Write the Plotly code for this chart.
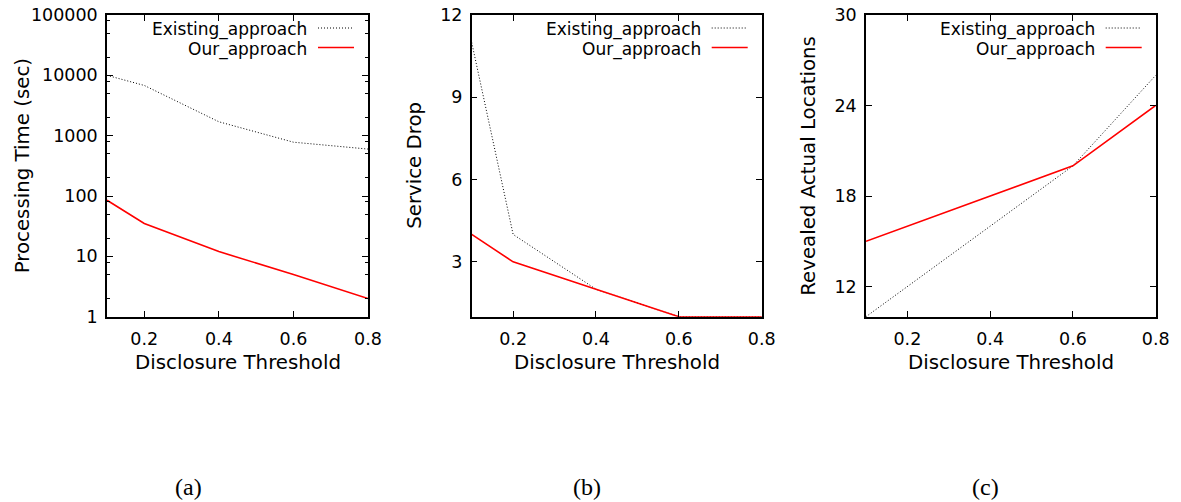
import plotly.graph_objects as go

W, H = 1181, 502

# ---- data ----
thresholds = [0.1, 0.2, 0.4, 0.6, 0.8]
series_names = ["Existing_approach", "Our_approach"]

time_existing = [10000, 6800, 1700, 780, 600]
time_ours = [85, 35, 12, 5, 2]

drop_existing = [11, 4, 2, 1, 1]
drop_ours = [4, 3, 2, 1, 1]

reveal_existing = [10, 12, 16, 20, 26]
reveal_ours = [15, 16, 18, 20, 24]

x_ticks = [0.2, 0.4, 0.6, 0.8]
a_yticks = [1, 10, 100, 1000, 10000, 100000]
a_minor = [m * 10 ** d for d in range(5) for m in (2, 5, 8)]
b_yticks = [3, 6, 9, 12]
c_yticks = [12, 18, 24, 30]

y_titles = ["Processing Time (sec)", "Service Drop", "Revealed Actual Locations"]
x_title = "Disclosure Threshold"
captions = ["(a)", "(b)", "(c)"]

# ---- layout geometry (pixels) ----
panels_px = [(107, 368), (471.7, 761.7), (866, 1155.7)]
top_px, bot_px = 15, 316.7
ytitle_x_px = [22.5, 415, 809]
caption_x_px = [188, 587, 985]


def px(x):
    return x / W


def py(y):
    return 1 - y / H


FONT = "DejaVu Sans"
styles = [dict(color="#000000", width=1, dash="1px,2px"), dict(color="#ff0000", width=1.6)]

fig = go.Figure()
datasets = [
    (time_existing, time_ours),
    (drop_existing, drop_ours),
    (reveal_existing, reveal_ours),
]
for i, (ex, ours) in enumerate(datasets):
    xa = "x" if i == 0 else f"x{i+1}"
    ya = "y" if i == 0 else f"y{i+1}"
    for name, vals, st in zip(series_names, (ex, ours), styles):
        fig.add_trace(go.Scatter(x=thresholds, y=vals, mode="lines", name=name,
                                 line=st, xaxis=xa, yaxis=ya, showlegend=False,
                                 cliponaxis=True))

axis_common = dict(showgrid=False, zeroline=False, showline=True, linecolor="black",
                   linewidth=1.5, mirror="ticks", ticks="inside", ticklen=6,
                   tickwidth=1, tickcolor="black", automargin=False,
                   tickfont=dict(family=FONT, size=17.5, color="black"))

layout = dict(template="none", width=W, height=H, margin=dict(l=0, r=0, t=0, b=0, pad=0),
              paper_bgcolor="white", plot_bgcolor="white", showlegend=False,
              font=dict(family=FONT, color="black"))

ydom = [py(bot_px), py(top_px)]
for i, (l, r) in enumerate(panels_px):
    sx = "" if i == 0 else str(i + 1)
    layout[f"xaxis{sx}"] = dict(axis_common, domain=[px(l), px(r)], range=[0.1, 0.8],
                                tickvals=x_ticks, ticktext=[f"{v:.1f}" for v in x_ticks],
                                anchor=f"y{sx}", ticklabelstandoff=6)
yaxes = [
    dict(type="log", range=[0, 5], tickvals=a_yticks, ticktext=[str(v) for v in a_yticks],
         minor=dict(tickvals=a_minor, ticks="inside", ticklen=3.5, tickcolor="black", tickwidth=1)),
    dict(range=[1, 12], tickvals=b_yticks, ticktext=[str(v) for v in b_yticks]),
    dict(range=[10, 30], tickvals=c_yticks, ticktext=[str(v) for v in c_yticks]),
]
for i, ya in enumerate(yaxes):
    sx = "" if i == 0 else str(i + 1)
    layout[f"yaxis{sx}"] = dict(axis_common, domain=ydom, anchor=f"x{sx}",
                                ticklabelstandoff=4, **ya)

fig.update_layout(**layout)

annotations = []
shapes = []
for i, (l, r) in enumerate(panels_px):
    # y title
    annotations.append(dict(x=px(ytitle_x_px[i]), y=py((top_px + bot_px) / 2), xref="paper",
                            yref="paper", text=y_titles[i], textangle=-90, showarrow=False,
                            xanchor="center", yanchor="middle",
                            font=dict(family=FONT, size=19.8, color="black")))
    # x title
    annotations.append(dict(x=px((l + r) / 2), y=py(362), xref="paper", yref="paper",
                            text=x_title, showarrow=False, xanchor="center", yanchor="middle",
                            font=dict(family=FONT, size=19.8, color="black")))
    # caption
    annotations.append(dict(x=px(caption_x_px[i]), y=py(487), xref="paper", yref="paper",
                            text=captions[i], showarrow=False, xanchor="center",
                            yanchor="middle",
                            font=dict(family="Liberation Serif", size=24, color="black")))
    # key
    for k, (name, st) in enumerate(zip(series_names, styles)):
        yrow = 30 + 19.5 * k
        annotations.append(dict(x=px(r - 60), y=py(yrow), xref="paper", yref="paper",
                                text=name, showarrow=False, xanchor="right", yanchor="middle",
                                borderpad=0,
                                font=dict(family=FONT, size=17, color="black")))
        shapes.append(dict(type="line", xref="paper", yref="paper",
                           x0=px(r - 50), x1=px(r - 14), y0=py(yrow - 2), y1=py(yrow - 2),
                           line=st))

fig.update_layout(annotations=annotations, shapes=shapes)
fig.write_html("out.html")
